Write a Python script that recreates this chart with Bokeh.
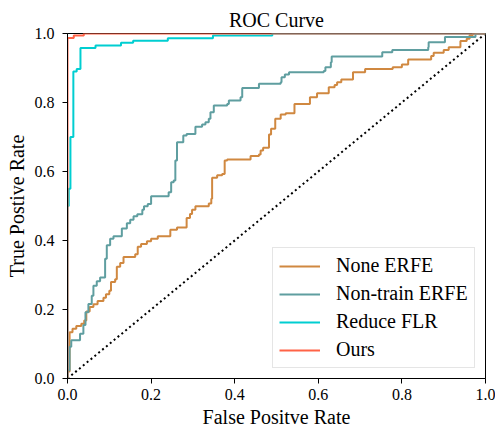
from bokeh.plotting import figure
from bokeh.models import Range1d, FixedTicker
from bokeh.embed import file_html
from bokeh.resources import INLINE

FONT = "Liberation Serif"

# ---- data ----
series_names = ["None ERFE", "Non-train ERFE", "Reduce FLR", "Ours"]
series_colors = ["#D08840", "#5F9EA0", "#00CED1", "#FF6347"]

# step points: false positive rate where the curve rises, and the true positive rate after the rise
none_erfe_fpr = [0.0, 0.005, 0.012, 0.021, 0.033, 0.04, 0.045, 0.053, 0.062, 0.072, 0.086, 0.092,
                 0.1, 0.104, 0.114, 0.118, 0.126, 0.134, 0.162, 0.168, 0.176, 0.19, 0.2, 0.216,
                 0.246, 0.262, 0.285, 0.293, 0.298, 0.306, 0.338, 0.344, 0.346, 0.358, 0.37, 0.376,
                 0.382, 0.438, 0.458, 0.462, 0.468, 0.482, 0.487, 0.497, 0.51, 0.522, 0.543, 0.58,
                 0.597, 0.625, 0.639, 0.645, 0.655, 0.683, 0.712, 0.778, 0.8, 0.815, 0.87, 0.876,
                 0.9, 0.912, 0.94, 0.955, 0.962, 0.97]
none_erfe_tpr = [0.02, 0.134, 0.144, 0.152, 0.159, 0.168, 0.194, 0.207, 0.215, 0.225, 0.234, 0.244,
                 0.254, 0.28, 0.288, 0.324, 0.335, 0.352, 0.36, 0.382, 0.39, 0.398, 0.405, 0.412,
                 0.431, 0.438, 0.465, 0.477, 0.489, 0.499, 0.507, 0.521, 0.582, 0.589, 0.593, 0.632,
                 0.635, 0.645, 0.649, 0.661, 0.669, 0.707, 0.724, 0.753, 0.765, 0.769, 0.796, 0.815,
                 0.827, 0.844, 0.851, 0.859, 0.867, 0.888, 0.897, 0.902, 0.91, 0.925, 0.935, 0.944,
                 0.952, 0.96, 0.978, 0.985, 0.996, 1.0]

non_train_fpr = [0.0, 0.005, 0.009, 0.03, 0.038, 0.043, 0.05, 0.058, 0.062, 0.07, 0.078, 0.09,
                 0.094, 0.102, 0.11, 0.13, 0.142, 0.15, 0.158, 0.167, 0.179, 0.183, 0.192, 0.2,
                 0.242, 0.248, 0.254, 0.258, 0.262, 0.277, 0.285, 0.306, 0.322, 0.33, 0.338, 0.342,
                 0.35, 0.382, 0.386, 0.414, 0.418, 0.458, 0.51, 0.512, 0.52, 0.53, 0.613, 0.617,
                 0.63, 0.632, 0.753, 0.777, 0.863, 0.864, 0.903, 0.976, 0.99]
non_train_tpr = [0.024, 0.092, 0.111, 0.13, 0.155, 0.192, 0.216, 0.24, 0.269, 0.282, 0.293, 0.347,
                 0.386, 0.405, 0.412, 0.435, 0.45, 0.46, 0.47, 0.476, 0.489, 0.499, 0.506, 0.528,
                 0.54, 0.569, 0.574, 0.632, 0.685, 0.704, 0.709, 0.73, 0.736, 0.743, 0.753, 0.772,
                 0.791, 0.796, 0.806, 0.815, 0.842, 0.854, 0.859, 0.873, 0.881, 0.888, 0.891, 0.902,
                 0.917, 0.933, 0.946, 0.952, 0.96, 0.975, 0.99, 0.999, 1.0]

reduce_flr_fpr = [0.0, 0.003, 0.007, 0.014, 0.022, 0.031, 0.067, 0.128, 0.157, 0.24, 0.348, 0.49]
reduce_flr_tpr = [0.5, 0.55, 0.70, 0.89, 0.897, 0.958, 0.965, 0.973, 0.979, 0.986, 0.994, 1.0]

ours_fpr = [0.0, 0.015, 0.039]
ours_tpr = [0.987, 0.994, 1.0]

chance_fpr = [0.0, 1.0]
chance_tpr = [0.0, 1.0]

tick_values = [0.0, 0.2, 0.4, 0.6, 0.8, 1.0]
tick_labels = ["0.0", "0.2", "0.4", "0.6", "0.8", "1.0"]


def staircase(fpr, tpr):
    xs, ys = [0.0], [0.0]
    for x, y in zip(fpr, tpr):
        prev = ys[-1]
        xs += [x, x]
        ys += [prev, y]
    xs.append(1.0)
    ys.append(ys[-1])
    return xs, ys


p = figure(width=495, height=433, output_backend="svg", toolbar_location=None,
           x_range=Range1d(0, 1), y_range=Range1d(0, 1), title="ROC Curve",
           x_axis_label="False Positve Rate", y_axis_label="True Postive Rate")
p.min_border = 0
p.min_border_left = 67
p.min_border_right = 10
p.min_border_top = 33
p.min_border_bottom = 55
p.background_fill_color = "white"
p.border_fill_color = "white"
p.outline_line_color = "black"
p.outline_line_width = 1
p.outline_line_alpha = 1
p.xgrid.visible = False
p.ygrid.visible = False

p.title.align = "center"
p.title.text_font = FONT
p.title.text_font_size = "20px"
p.title.text_font_style = "normal"
p.title.text_color = "black"
p.title.standoff = 6

for ax in (p.xaxis[0], p.yaxis[0]):
    ax.ticker = FixedTicker(ticks=tick_values)
    ax.major_label_overrides = {v: s for v, s in zip(tick_values, tick_labels)}
    ax.minor_tick_line_color = None
    ax.major_tick_in = 0
    ax.major_tick_out = 5
    ax.major_tick_line_color = "black"
    ax.axis_line_color = "black"
    ax.major_label_text_font = FONT
    ax.major_label_text_font_size = "16px"
    ax.major_label_text_font_style = "normal"
    ax.major_label_text_color = "black"
    ax.axis_label_text_font = FONT
    ax.axis_label_text_font_size = "20px"
    ax.axis_label_text_font_style = "normal"
    ax.axis_label_text_color = "black"
p.xaxis.major_label_standoff = 5
p.xaxis.axis_label_standoff = 3
p.yaxis.major_label_standoff = 8
p.yaxis.axis_label_standoff = 4

p.line(chance_fpr, chance_tpr, line_color="black", line_width=2, line_dash="2 3")

all_series = [(none_erfe_fpr, none_erfe_tpr), (non_train_fpr, non_train_tpr),
              (reduce_flr_fpr, reduce_flr_tpr), (ours_fpr, ours_tpr)]
for (fx, fy), name, col in zip(all_series, series_names, series_colors):
    xs, ys = staircase(fx, fy)
    p.line(xs, ys, line_color=col, line_width=2, legend_label=name)

lg = p.legend[0]
lg.location = (205, 10)
lg.label_text_font = FONT
lg.label_text_font_size = "20px"
lg.label_text_color = "black"
lg.label_height = 20
lg.glyph_height = 20
lg.glyph_width = 41
lg.label_standoff = 16
lg.spacing = 5
lg.padding = 6
lg.margin = 0
lg.border_line_color = "#cccccc"
lg.border_line_width = 1
lg.background_fill_color = "white"
lg.background_fill_alpha = 0.8

open("out.html", "w").write(file_html(p, INLINE))
